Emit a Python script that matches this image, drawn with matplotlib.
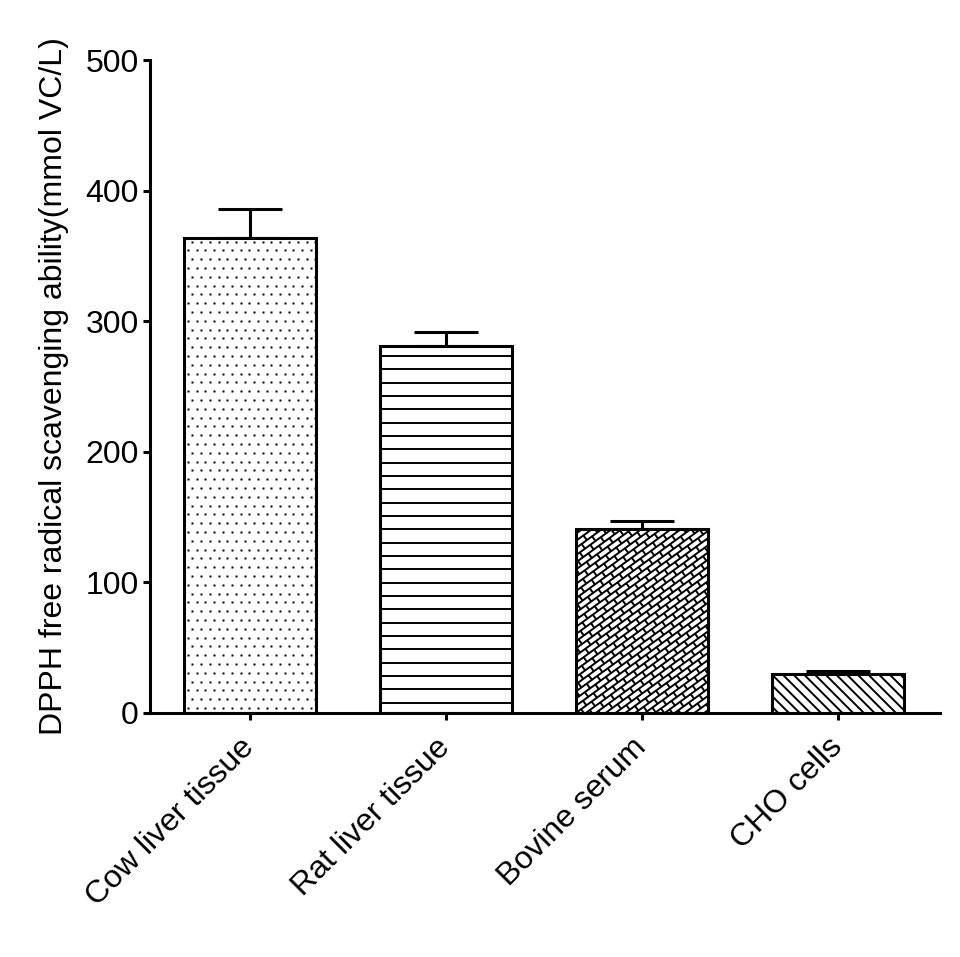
import numpy as np
import matplotlib
matplotlib.use("Agg")
import matplotlib.pyplot as plt
from matplotlib.collections import LineCollection

plt.rcParams['font.family'] = ['Liberation Sans', 'DejaVu Sans']

categories = ["Cow liver tissue", "Rat liver tissue", "Bovine serum", "CHO cells"]
values = [364, 281, 141, 30]
errors = [22, 11, 6, 2]
yticks = [0, 100, 200, 300, 400, 500]
ylabel = "DPPH free radical scavenging ability(mmol VC/L)"

W, H = 960, 957
fig = plt.figure(figsize=(W / 100, H / 100), dpi=100)
ax = fig.add_axes([150 / W, 1 - 713 / H, (940 - 150) / W, (713 - 60) / H])

x = np.arange(len(categories))
ax.set_xlim(-0.51, 3.52)
ax.set_ylim(0, 500)

ax.errorbar(x, values, yerr=[np.zeros(len(values)), errors], fmt='none',
            ecolor='black', elinewidth=2.2, capsize=23, capthick=2.2, zorder=1)
bars = ax.bar(x, values, width=0.675, facecolor='white', edgecolor='black',
              linewidth=2.2, zorder=2)

for s in ['top', 'right']:
    ax.spines[s].set_visible(False)
for s in ['left', 'bottom']:
    ax.spines[s].set_linewidth(2.2)
ax.spines['left'].set_bounds(0, 500)

ax.set_yticks(yticks)
ax.set_xticks(x)
ax.tick_params(axis='both', width=2.2, length=5, labelsize=23)
ax.tick_params(axis='y', pad=3)
ax.tick_params(axis='x', pad=16.5)
ax.set_xticklabels(categories, rotation=45, ha='right', va='center',
                   rotation_mode='anchor')
ax.set_ylabel(ylabel, fontsize=23, labelpad=12)

fig.canvas.draw()
inv = ax.transData.inverted()


def to_data(px, py):
    pts = inv.transform(np.column_stack([px, py]))
    return pts[:, 0], pts[:, 1]


def segs_to_data(segs):
    out = []
    for (x0, y0), (x1, y1) in segs:
        p = inv.transform(np.array([[x0, y0], [x1, y1]]))
        out.append(p)
    return out


def add_lines(segs, bar, lw=1.3):
    lc = LineCollection(segs_to_data(segs), colors='black', linewidths=lw,
                        zorder=2.5)
    ax.add_collection(lc)
    lc.set_clip_path(bar)


# bar 0: staggered dots
b = bars[0]
ext = b.get_window_extent()
step = 8.8
pxs, pys = [], []
row = 0
yy = ext.y0 + 5
while yy < ext.y1:
    off = (step / 2) if row % 2 else 0
    xx = ext.x0 + 4 + off
    while xx < ext.x1:
        pxs.append(xx)
        pys.append(yy)
        xx += step
    yy += step
    row += 1
dx, dy = to_data(np.array(pxs), np.array(pys))
pts = ax.plot(dx, dy, 's', ms=1.8, color='black', mec='none', zorder=2.5)[0]
pts.set_clip_path(b)

# bar 1: horizontal lines
b = bars[1]
ext = b.get_window_extent()
segs = []
yy = ext.y0 + 10.3
while yy < ext.y1:
    segs.append(((ext.x0 - 5, yy), (ext.x1 + 5, yy)))
    yy += 13.33
add_lines(segs, b, lw=1.4)

# bar 2: diagonal brick pattern
b = bars[2]
ext = b.get_window_extent()
ang = np.deg2rad(36)
c, s = np.cos(ang), np.sin(ang)
sp = 5.8
L = 13.0
cx0, cy0 = ext.x0, ext.y0
R = np.hypot(ext.width, ext.height) + 40
segs = []


def rot(u, v):
    return (cx0 + u * c - v * s, cy0 + u * s + v * c)


k = int(-R / sp) - 2
while k * sp < R:
    v = k * sp
    segs.append((rot(-R, v), rot(R, v)))
    shift = (L / 2) if k % 2 else 0
    j = int(-R / L) - 2
    while j * L < R:
        u = j * L + shift
        segs.append((rot(u, v), rot(u, v + sp)))
        j += 1
    k += 1
add_lines(segs, b, lw=1.4)

# bar 3: back-diagonal lines
b = bars[3]
ext = b.get_window_extent()
segs = []
hs = 10.7
xx = ext.x0 - ext.height - 20
while xx < ext.x1 + 20:
    segs.append(((xx, ext.y1 + 5), (xx + ext.height + 10, ext.y0 - 5)))
    xx += hs
add_lines(segs, b, lw=1.4)

fig.savefig("out.png", dpi=100, facecolor='white')
